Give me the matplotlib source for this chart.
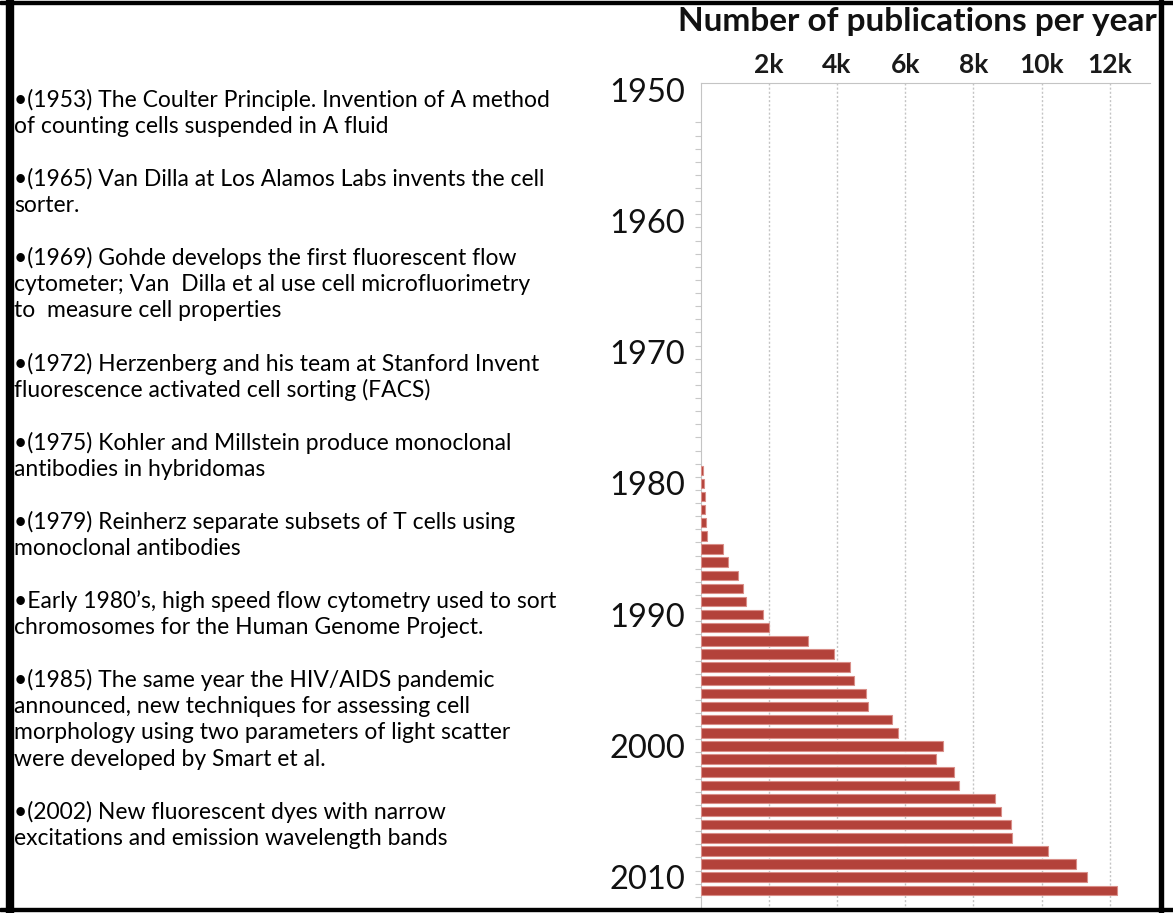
import matplotlib.pyplot as plt
from matplotlib.patches import Rectangle

# publicaciones por año (solo años con barra visible)
anios = list(range(1979, 2012))
publicaciones = [80, 100, 130, 120, 150, 180, 650, 810, 1100, 1240, 1340,
                 1820, 2010, 3160, 3910, 4380, 4500, 4850, 4920, 5610, 5800,
                 7110, 6900, 7430, 7580, 8630, 8800, 9100, 9120, 10180,
                 11010, 11320, 12200]

anios_etiqueta = [1950, 1960, 1970, 1980, 1990, 2000, 2010]
ticks_x = [2000, 4000, 6000, 8000, 10000, 12000]
etiquetas_x = ['2k', '4k', '6k', '8k', '10k', '12k']

hitos = [
    ['\u2022(1953) The Coulter Principle. Invention of A method',
     'of counting cells suspended in A fluid'],
    ['\u2022(1965) Van Dilla at Los Alamos Labs invents the cell',
     'sorter.'],
    ['\u2022(1969) Gohde develops the first fluorescent flow',
     'cytometer; Van  Dilla et al use cell microfluorimetry',
     'to  measure cell properties'],
    ['\u2022(1972) Herzenberg and his team at Stanford Invent',
     'fluorescence activated cell sorting (FACS)'],
    ['\u2022(1975) Kohler and Millstein produce monoclonal',
     'antibodies in hybridomas'],
    ['\u2022(1979) Reinherz separate subsets of T cells using',
     'monoclonal antibodies'],
    ['\u2022Early 1980\u2019s, high speed flow cytometry used to sort',
     'chromosomes for the Human Genome Project.'],
    ['\u2022(1985) The same year the HIV/AIDS pandemic',
     'announced, new techniques for assessing cell',
     'morphology using two parameters of light scatter',
     'were developed by Smart et al.'],
    ['\u2022(2002) New fluorescent dyes with narrow',
     'excitations and emission wavelength bands'],
]

plt.rcParams['font.family'] = ['Lato', 'DejaVu Sans']

W, H = 1173, 913
fig = plt.figure(figsize=(W / 100, H / 100), dpi=100)


def fx(px):
    return px / W


def fy(py):
    return 1 - py / H


ax = fig.add_axes([fx(700.7), fy(910), fx(1150 - 700.7), (910 - 83) / H])

ax.barh(anios, publicaciones, height=0.72, color='#b3423a',
        edgecolor='#d98e88', linewidth=0.8, zorder=3)

ax.set_ylim(2012.5, 1949.5)
ax.set_xlim(0, 13180)

ax.xaxis.tick_top()
ax.set_xticks(ticks_x)
ax.set_xticklabels(etiquetas_x, fontsize=19, fontweight='bold', color='#1a1a1a')
ax.tick_params(axis='x', length=0, pad=4)
ax.grid(axis='x', color='#c4c4c4', linestyle=(0, (1.5, 1.5)), linewidth=1,
        zorder=0)

ax.set_yticks(anios_etiqueta)
ax.set_yticklabels([str(a) for a in anios_etiqueta], fontsize=23.5,
                   color='#111111')
ax.set_yticks([a + 0.5 for a in range(1952, 2012)], minor=True)
ax.tick_params(axis='y', which='major', length=0, pad=11)
ax.tick_params(axis='y', which='minor', length=4, color='#c8c8c8', width=0.8)

for lado in ['right', 'bottom']:
    ax.spines[lado].set_visible(False)
ax.spines['top'].set_color('#c4c4c4')
ax.spines['left'].set_color('#c4c4c4')

fig.text(fx(917), fy(22), 'Number of publications per year', fontsize=24,
         fontweight='bold', ha='center', va='center', color='#111111')

# texto de la izquierda
i = 0
for parrafo in hitos:
    for linea in parrafo:
        fig.text(fx(14), fy(100 + i * 26.36), linea, fontsize=16.5,
                 ha='left', va='center', color='black')
        i += 1
    i += 1

# marco negro
fig.patches.append(Rectangle((fx(6), 0), fx(7), 1, transform=fig.transFigure,
                             color='black'))
fig.patches.append(Rectangle((fx(1159), 0), fx(4), 1, transform=fig.transFigure,
                             color='black'))
fig.patches.append(Rectangle((0, fy(4)), 1, 3 / H, transform=fig.transFigure,
                             color='black'))
fig.patches.append(Rectangle((0, fy(911)), 1, 3 / H, transform=fig.transFigure,
                             color='black'))

fig.savefig('out.png', dpi=100)
